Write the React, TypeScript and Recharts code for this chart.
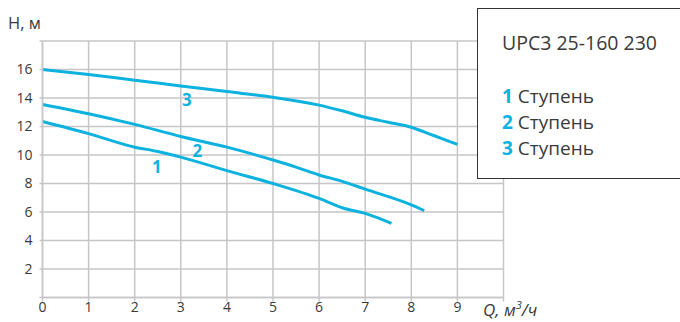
import { LineChart, Line, XAxis, YAxis, CartesianGrid, ReferenceDot } from 'recharts'

// curves: Q in m3/h, H in m
const q1 = [0, 1, 2, 2.5, 3, 4, 5, 6, 6.5, 7, 7.57]
const h1 = [12.35, 11.5, 10.55, 10.25, 9.85, 8.9, 8.0, 6.95, 6.3, 5.9, 5.2]

const q2 = [0, 1, 2, 3, 4, 5, 5.5, 6, 6.5, 7, 8, 8.28]
const h2 = [13.55, 12.9, 12.15, 11.3, 10.55, 9.65, 9.15, 8.6, 8.15, 7.6, 6.5, 6.1]

const q3 = [0, 1, 2, 3, 4, 5, 6, 6.5, 7, 7.5, 8, 8.5, 9]
const h3 = [16, 15.65, 15.25, 14.85, 14.45, 14.05, 13.5, 13.1, 12.65, 12.3, 11.95, 11.35, 10.75]

const xTicks = [0, 1, 2, 3, 4, 5, 6, 7, 8, 9, 10]
const yTicks = [0, 2, 4, 6, 8, 10, 12, 14, 16, 18]

// curve number labels placed next to the lines
const curveLabels = [
  { name: '1', q: 2.48, h: 9.18 },
  { name: '2', q: 3.36, h: 10.3 },
  { name: '3', q: 3.13, h: 13.86 },
]

const modelName = 'UPC3 25-160 230'
const stageNames = ['Ступень', 'Ступень', 'Ступень']

const CYAN = '#0db2df'
const GRID = '#c6c6c9'
const TEXT = '#3a3a3a'
const FONT = '"Open Sans", "Noto Sans", sans-serif'

const toRows = (qs: number[], hs: number[]) => qs.map((q, i) => ({ q, h: hs[i] }))

const App = () => {
  const series = [toRows(q1, h1), toRows(q2, h2), toRows(q3, h3)]

  return (
    <div style={{ position: 'absolute', left: 0, top: 0, width: 680, height: 322, overflow: 'hidden', background: '#fff', fontFamily: FONT }}>
      <LineChart
        width={680}
        height={322}
        margin={{ top: 41, right: 176.5, left: 0, bottom: 0 }}
        style={{ fontFamily: FONT }}
      >
        <CartesianGrid stroke={GRID} strokeWidth={1.5} />
        <XAxis
          type="number"
          dataKey="q"
          domain={[0, 10]}
          ticks={xTicks}
          allowDataOverflow
          height={24.5}
          stroke={GRID}
          strokeWidth={1.5}
          tickSize={4}
          tickMargin={1}
          tick={{ fill: TEXT, fontSize: 14 }}
          tickFormatter={(v: number) => (v === 10 ? '' : String(v))}
        />
        <YAxis
          type="number"
          dataKey="h"
          domain={[0, 18]}
          ticks={yTicks}
          allowDataOverflow
          width={42.5}
          stroke={GRID}
          strokeWidth={1.5}
          tickSize={3}
          tickMargin={7}
          tick={{ fill: TEXT, fontSize: 14 }}
          tickFormatter={(v: number) => (v === 0 || v === 18 ? '' : String(v))}
        />
        {series.map((rows, i) => (
          <Line
            key={i}
            data={rows}
            dataKey="h"
            type="monotone"
            stroke={CYAN}
            strokeWidth={3}
            dot={false}
            isAnimationActive={false}
          />
        ))}
        {curveLabels.map((l) => (
          <ReferenceDot
            key={l.name}
            x={l.q}
            y={l.h}
            r={0}
            fill="none"
            stroke="none"
            label={{ value: l.name, position: 'center', fill: CYAN, fontSize: 17, fontWeight: 700 }}
          />
        ))}
      </LineChart>

      {/* axis titles */}
      <div style={{ position: 'absolute', left: 8, top: 11, fontSize: 16.5, color: TEXT }}>Н, м</div>
      <div style={{ position: 'absolute', left: 483, top: 297, fontSize: 17, color: TEXT, fontStyle: 'italic', whiteSpace: 'nowrap' }}>
        Q, м<sup style={{ fontSize: 11 }}>3</sup>/ч
      </div>

      {/* legend box */}
      <div
        style={{
          position: 'absolute',
          left: 477,
          top: 8,
          width: 230,
          height: 171,
          border: '1.5px solid #333',
          background: '#fff',
          boxSizing: 'border-box',
          color: TEXT,
          fontSize: 19,
        }}
      >
        <div style={{ position: 'absolute', left: 24, top: 20, whiteSpace: 'nowrap', fontSize: 19.5 }}>{modelName}</div>
        {stageNames.map((s, i) => (
          <div key={i} style={{ position: 'absolute', left: 24, top: 74 + i * 26, whiteSpace: 'nowrap' }}>
            <span style={{ color: CYAN, fontWeight: 700 }}>{i + 1}</span> {s}
          </div>
        ))}
      </div>
    </div>
  )
}

export default App
